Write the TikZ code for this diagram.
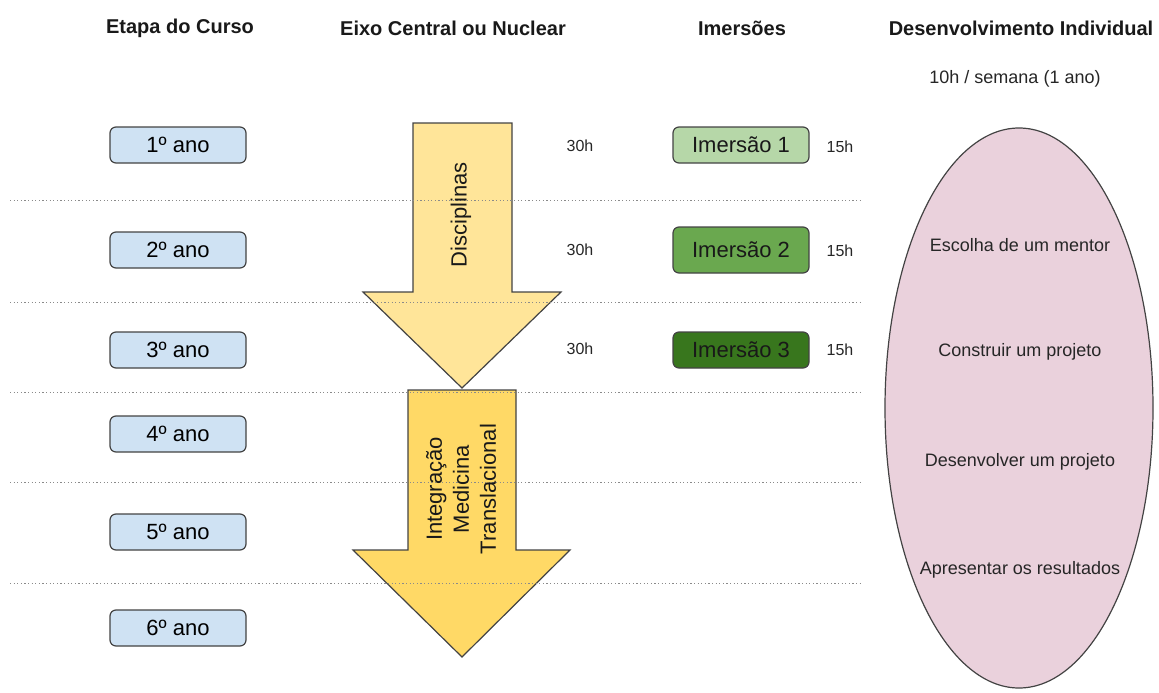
\documentclass[tikz,border=0pt]{standalone}
\usepackage{fontspec}
\setmainfont{Liberation Sans}
\usetikzlibrary{shapes.geometric}
\definecolor{yearfill}{HTML}{CFE2F3}
\definecolor{imA}{HTML}{B6D7A8}
\definecolor{imB}{HTML}{6AA84F}
\definecolor{imC}{HTML}{38761D}
\definecolor{arrA}{HTML}{FFE599}
\definecolor{arrB}{HTML}{FFD966}
\definecolor{ellfill}{HTML}{EAD1DC}
\definecolor{edge}{HTML}{434343}
\definecolor{dotc}{HTML}{8A8A8A}
\tikzset{
  header/.style={font=\fontsize{20}{24}\selectfont\bfseries, text=black!90},
  yearbox/.style={draw=edge, line width=1.2pt, fill=yearfill, rounded corners=6pt, minimum width=136pt, minimum height=36pt, inner sep=0pt, font=\fontsize{22}{26}\selectfont},
  imbox/.style={draw=edge, line width=1.2pt, rounded corners=6pt, minimum width=136pt, inner sep=0pt, font=\fontsize{22}{26}\selectfont, text=black!90},
  hours/.style={font=\fontsize{16}{19}\selectfont, text=black!85},
  elltext/.style={font=\fontsize{18}{22}\selectfont, text=black!85},
  arrowshape/.style={draw=edge, line width=1.2pt, line join=miter},
  sep/.style={draw=dotc, line width=1pt, dash pattern=on 1.2pt off 2.4pt},
  arrtext/.style={font=\fontsize{22}{27}\selectfont, align=center, rotate=90, text=black!90}
}
\begin{document}
\begin{tikzpicture}[x=1pt,y=-1pt]
\useasboundingbox (0,0) rectangle (1159,693);
% headers
\node[header] (h1) at (180,28) {Etapa do Curso};
\node[header] (h2) at (453,28) {Eixo Central ou Nuclear};
\node[header] (h3) at (742,28) {Imersões};
\node[header] (h4) at (1021,28) {Desenvolvimento Individual};
\node[elltext] (sub) at (1015,79) {10h / semana (1 ano)};
% ellipse
\node[ellipse, draw=edge, line width=1.2pt, fill=ellfill, minimum width=268pt, minimum height=560pt, inner sep=0pt] (ell) at (1019,408) {};
\node[elltext] (e1) at (1020,245) {Escolha de um mentor};
\node[elltext] (e2) at (1020,352) {Construir um projeto};
\node[elltext] (e3) at (1020,462) {Desenvolver um projeto};
\node[elltext] (e4) at (1020,570) {Apresentar os resultados};
% arrows
\path[arrowshape, fill=arrB] (408,390) -- (516,390) -- (516,550) -- (570,550) -- (462,657) -- (353,550) -- (408,550) -- cycle;
\path[arrowshape, fill=arrA] (413,123) -- (512,123) -- (512,292) -- (561,292) -- (462,388) -- (363,292) -- (413,292) -- cycle;
% separators
\coordinate (s1l) at (10,200); \coordinate (s1r) at (862,200);
\coordinate (s2l) at (10,302); \coordinate (s2r) at (862,302);
\coordinate (s3l) at (10,392); \coordinate (s3r) at (862,392);
\coordinate (s4l) at (10,482); \coordinate (s4r) at (862,482);
\coordinate (s5l) at (10,583); \coordinate (s5r) at (862,583);
\draw[sep] (s1l) -- (s1r);
\draw[sep] (s2l) -- (s2r);
\draw[sep] (s3l) -- (s3r);
\draw[sep] (s4l) -- (s4r);
\draw[sep] (s5l) -- (s5r);
% arrow texts
\node[arrtext] (t1) at (461,215) {Disciplinas};
\node[arrtext] (t2) at (461,489) {Integração\\Medicina\\Translacional};
% years
\node[yearbox] (y1) at (178,145) {1º ano};
\node[yearbox] (y2) at (178,250) {2º ano};
\node[yearbox] (y3) at (178,350) {3º ano};
\node[yearbox] (y4) at (178,434) {4º ano};
\node[yearbox] (y5) at (178,532) {5º ano};
\node[yearbox] (y6) at (178,628) {6º ano};
% hours
\node[hours] (d1) at (580,146) {30h};
\node[hours] (d2) at (580,250) {30h};
\node[hours] (d3) at (580,349) {30h};
\node[hours] (i1h) at (840,147) {15h};
\node[hours] (i2h) at (840,251) {15h};
\node[hours] (i3h) at (840,350) {15h};
% immersions
\node[imbox, fill=imA, minimum height=36pt] (im1) at (741,145) {Imersão 1};
\node[imbox, fill=imB, minimum height=46pt] (im2) at (741,250) {Imersão 2};
\node[imbox, fill=imC, minimum height=36pt] (im3) at (741,350) {Imersão 3};
\end{tikzpicture}
\end{document}
